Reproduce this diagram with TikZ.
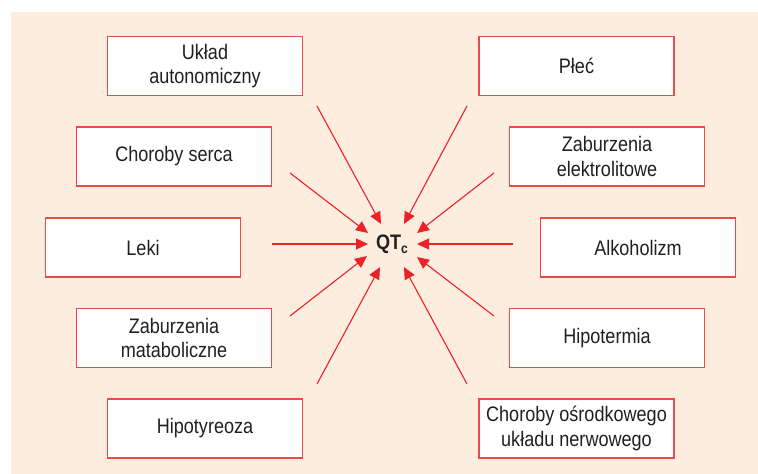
\documentclass[tikz,border=0pt]{standalone}
\usepackage{fontspec}
\setmainfont[FakeStretch=0.86]{Liberation Sans}
\usetikzlibrary{arrows.meta}
\definecolor{peach}{RGB}{253,237,223}
\definecolor{boxred}{RGB}{236,72,78}
\definecolor{arrred}{RGB}{234,35,42}
\definecolor{txt}{RGB}{35,31,32}
\tikzset{
  factor/.style={draw=boxred, line width=1.4pt, fill=white, minimum width=195pt, minimum height=59pt,
    align=center, text=txt, font=\fontsize{21}{24.5}\selectfont, inner sep=0pt},
  infl/.style={draw=arrred, line width=1.1pt, -{Triangle[length=12pt,width=11pt]}}
}
\begin{document}
\begin{tikzpicture}[x=1pt,y=-1pt]
\useasboundingbox (0,0) rectangle (758,474);
\fill[peach] (11,12) rectangle (758,474);
% left column
\node[factor] (uklad) at (205,66) {Układ\\autonomiczny};
\node[factor] (serca) at (174,156.5) {Choroby serca};
\node[factor] (leki) at (143,247.5) {Leki};
\node[factor] (metab) at (174,338) {Zaburzenia\\mataboliczne};
\node[factor] (hipot) at (205,428.5) {Hipotyreoza};
% right column
\node[factor] (plec) at (576.5,66) {Płeć};
\node[factor] (elek) at (607,156.5) {Zaburzenia\\elektrolitowe};
\node[factor] (alko) at (638,247.5) {Alkoholizm};
\node[factor] (hterm) at (607,338) {Hipotermia};
\node[factor] (cns) at (576.5,428.5) {Choroby ośrodkowego\\układu nerwowego};
% center
\node[text=txt, font=\fontsize{21}{24}\selectfont\bfseries, inner sep=0pt] (qt) at (392,244)
  {QT\raisebox{-4.5pt}{\fontsize{14}{14}\selectfont c}};
% arrow ends
\coordinate (s1) at (317,106);  \coordinate (t1) at (381,224);
\coordinate (s2) at (290,173);  \coordinate (t2) at (368,233);
\coordinate (s3) at (272,244);  \coordinate (t3) at (368,244);
\coordinate (s4) at (290,316);  \coordinate (t4) at (367,256);
\coordinate (s5) at (317,384);  \coordinate (t5) at (380,267);
\coordinate (s6) at (467,106);  \coordinate (t6) at (404,224);
\coordinate (s7) at (494,173);  \coordinate (t7) at (417,233);
\coordinate (s8) at (513,244);  \coordinate (t8) at (417,244);
\coordinate (s9) at (494,316);  \coordinate (t9) at (417,257);
\coordinate (s10) at (467,384); \coordinate (t10) at (404,267);
\foreach \i in {1,...,10} { \draw[infl] (s\i) -- (t\i); }
\end{tikzpicture}
\end{document}
